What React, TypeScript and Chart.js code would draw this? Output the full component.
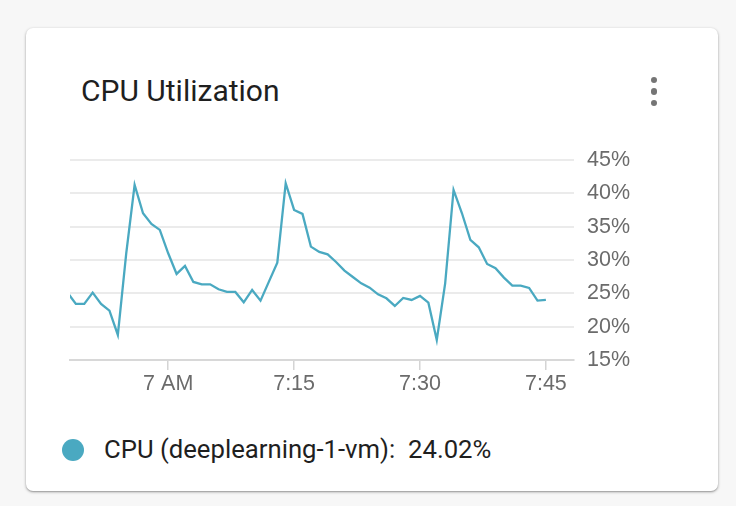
import React, { useEffect, useRef } from "react";
import { Chart, registerables } from "chart.js";

Chart.register(...registerables);

// minutes relative to 7:00 AM
const minutes = [
  -12, -11, -10, -9, -8, -7, -6, -5, -4, -3, -2, -1,
  0, 1, 2, 3, 4, 5, 6, 7, 8, 9, 10, 11, 12, 13, 14,
  15, 16, 17, 18, 19, 20, 21, 22, 23, 24, 25, 26, 27, 28, 29,
  30, 31, 32, 33, 34, 35, 36, 37, 38, 39, 40, 41, 42, 43, 44, 45,
];
const cpuValues = [
  25.1, 23.4, 23.4, 25.1, 23.4, 22.4, 18.75, 31.0, 41.25, 37.0, 35.4, 34.5,
  31.0, 27.9, 29.1, 26.7, 26.35, 26.35, 25.6, 25.2, 25.2, 23.65, 25.5, 23.9, 26.75, 29.6, 41.5,
  37.5, 36.9, 32.0, 31.2, 30.85, 29.7, 28.4, 27.45, 26.5, 25.85, 24.85, 24.25, 23.1, 24.3, 24.0,
  24.6, 23.6, 18.0, 26.5, 40.5, 37.0, 33.0, 31.9, 29.4, 28.75, 27.35, 26.15, 26.15, 25.8, 23.9, 24.02,
];
const xTickValues = [0, 15, 30, 45];
const xTickLabels = ["7 AM", "7:15", "7:30", "7:45"];
const yTickValues = [15, 20, 25, 30, 35, 40, 45];

const title = "CPU Utilization";
const seriesName = "CPU (deeplearning-1-vm)";
const lastValueLabel = "24.02%";
const lineColor = "#4aa9c1";

export default function App() {
  const canvasRef = useRef<HTMLCanvasElement | null>(null);

  useEffect(() => {
    const canvas = canvasRef.current;
    if (!canvas) return;
    const chart = new Chart(canvas, {
      type: "line",
      data: {
        datasets: [
          {
            label: seriesName,
            data: minutes.map((m, i) => ({ x: m, y: cpuValues[i] })),
            borderColor: lineColor,
            borderWidth: 2.3,
            pointRadius: 0,
            tension: 0,
            fill: false,
          },
        ],
      },
      options: {
        animation: false,
        responsive: false,
        maintainAspectRatio: false,
        layout: { padding: { left: 30, top: 0, right: 0, bottom: 0 } },
        plugins: { legend: { display: false }, tooltip: { enabled: false } },
        scales: {
          x: {
            type: "linear",
            min: -11.7,
            max: 48.35,
            afterBuildTicks: (scale: any) => {
              scale.ticks = xTickValues.map((v) => ({ value: v }));
            },
            afterFit: (scale: any) => {
              scale.height = 40;
            },
            grid: {
              drawOnChartArea: false,
              drawTicks: true,
              tickLength: 10,
              color: "#d4d4d4",
              lineWidth: 1.5,
            },
            border: { display: true, color: "#d8d8d8", width: 2 },
            ticks: {
              autoSkip: false,
              maxRotation: 0,
              padding: 1,
              color: "#6b6b6b",
              font: { family: "Liberation Sans", size: 21.5 },
              callback: (v: any) => {
                const idx = xTickValues.indexOf(Number(v));
                return idx >= 0 ? xTickLabels[idx] : "";
              },
            },
          },
          y: {
            type: "linear",
            position: "right",
            min: 15,
            max: 45,
            afterBuildTicks: (scale: any) => {
              scale.ticks = yTickValues.map((v) => ({ value: v }));
            },
            afterFit: (scale: any) => {
              scale.width = 86;
            },
            grid: {
              drawTicks: false,
              color: "#ebebeb",
              lineWidth: 2,
            },
            border: { display: false },
            ticks: {
              padding: 13,
              color: "#6b6b6b",
              font: { family: "Liberation Sans", size: 21.5 },
              callback: (v: any) => `${v}%`,
            },
          },
        },
      },
    });
    return () => chart.destroy();
  }, []);

  return (
    <div
      style={{
        position: "absolute",
        left: 0,
        top: 0,
        width: 736,
        height: 506,
        background: "#f7f7f7",
        overflow: "hidden",
      }}
    >
      <div
        style={{
          position: "absolute",
          left: 26,
          top: 28,
          width: 692,
          height: 463,
          background: "#ffffff",
          borderRadius: 7,
          boxShadow: "0 1px 3px rgba(0,0,0,0.35), 0 1px 1px rgba(0,0,0,0.12)",
        }}
      />
      <div
        style={{
          position: "absolute",
          left: 81,
          top: 72,
          fontFamily: "Roboto",
          fontSize: 30,
          lineHeight: "38px",
          color: "#1f1f1f",
          whiteSpace: "nowrap",
        }}
      >
        {title}
      </div>
      {[80, 91.5, 103].map((cy, i) => (
        <div
          key={i}
          style={{
            position: "absolute",
            left: 650.5,
            top: cy - 3.25,
            width: 6.5,
            height: 6.5,
            borderRadius: "50%",
            background: "#757575",
          }}
        />
      ))}
      <canvas
        ref={canvasRef}
        width={620}
        height={266}
        style={{ position: "absolute", left: 40, top: 134, width: 620, height: 266 }}
      />
      <div
        style={{
          position: "absolute",
          left: 62,
          top: 439,
          width: 22,
          height: 22,
          borderRadius: "50%",
          background: lineColor,
        }}
      />
      <div
        style={{
          position: "absolute",
          left: 104,
          top: 432,
          fontFamily: "Roboto",
          fontSize: 25.7,
          lineHeight: "34px",
          color: "#1f1f1f",
          whiteSpace: "nowrap",
        }}
      >
        {seriesName}:&nbsp; {lastValueLabel}
      </div>
    </div>
  );
}
